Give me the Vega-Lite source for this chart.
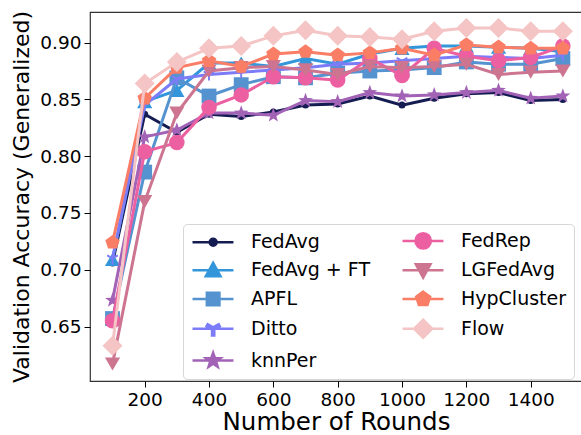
{
  "$schema": "https://vega.github.io/schema/vega-lite/v6.json",
  "width": 492,
  "height": 369,
  "autosize": {"type": "none"},
  "padding": {"left": 90, "top": 12, "right": -1, "bottom": 54},
  "background": "white",
  "config": {
    "font": "DejaVu Sans",
    "view": {"stroke": "#333333", "strokeWidth": 1.2},
    "axis": {"grid": false, "domain": false, "tickColor": "#000", "labelColor": "#000", "titleColor": "#000", "titleFontWeight": "normal", "labelFont": "DejaVu Sans", "titleFont": "DejaVu Sans", "tickSize": 6, "labelPadding": 3}
  },
  "data": {"values": [
    {"series": "FedAvg", "round": 100, "acc": 0.706}, {"series": "FedAvg", "round": 200, "acc": 0.837}, {"series": "FedAvg", "round": 300, "acc": 0.821}, {"series": "FedAvg", "round": 400, "acc": 0.837}, {"series": "FedAvg", "round": 500, "acc": 0.835}, {"series": "FedAvg", "round": 600, "acc": 0.839}, {"series": "FedAvg", "round": 700, "acc": 0.845}, {"series": "FedAvg", "round": 800, "acc": 0.846}, {"series": "FedAvg", "round": 900, "acc": 0.853}, {"series": "FedAvg", "round": 1000, "acc": 0.845}, {"series": "FedAvg", "round": 1100, "acc": 0.851}, {"series": "FedAvg", "round": 1200, "acc": 0.855}, {"series": "FedAvg", "round": 1300, "acc": 0.856}, {"series": "FedAvg", "round": 1400, "acc": 0.849}, {"series": "FedAvg", "round": 1500, "acc": 0.850},
    {"series": "FedAvg + FT", "round": 100, "acc": 0.709}, {"series": "FedAvg + FT", "round": 200, "acc": 0.848}, {"series": "FedAvg + FT", "round": 300, "acc": 0.858}, {"series": "FedAvg + FT", "round": 400, "acc": 0.882}, {"series": "FedAvg + FT", "round": 500, "acc": 0.882}, {"series": "FedAvg + FT", "round": 600, "acc": 0.879}, {"series": "FedAvg + FT", "round": 700, "acc": 0.886}, {"series": "FedAvg + FT", "round": 800, "acc": 0.881}, {"series": "FedAvg + FT", "round": 900, "acc": 0.890}, {"series": "FedAvg + FT", "round": 1000, "acc": 0.895}, {"series": "FedAvg + FT", "round": 1100, "acc": 0.897}, {"series": "FedAvg + FT", "round": 1200, "acc": 0.897}, {"series": "FedAvg + FT", "round": 1300, "acc": 0.896}, {"series": "FedAvg + FT", "round": 1400, "acc": 0.895}, {"series": "FedAvg + FT", "round": 1500, "acc": 0.892},
    {"series": "APFL", "round": 100, "acc": 0.657}, {"series": "APFL", "round": 200, "acc": 0.786}, {"series": "APFL", "round": 300, "acc": 0.869}, {"series": "APFL", "round": 400, "acc": 0.853}, {"series": "APFL", "round": 500, "acc": 0.863}, {"series": "APFL", "round": 600, "acc": 0.870}, {"series": "APFL", "round": 700, "acc": 0.869}, {"series": "APFL", "round": 800, "acc": 0.873}, {"series": "APFL", "round": 900, "acc": 0.875}, {"series": "APFL", "round": 1000, "acc": 0.876}, {"series": "APFL", "round": 1100, "acc": 0.878}, {"series": "APFL", "round": 1200, "acc": 0.883}, {"series": "APFL", "round": 1300, "acc": 0.881}, {"series": "APFL", "round": 1400, "acc": 0.881}, {"series": "APFL", "round": 1500, "acc": 0.886},
    {"series": "Ditto", "round": 100, "acc": 0.710}, {"series": "Ditto", "round": 200, "acc": 0.845}, {"series": "Ditto", "round": 300, "acc": 0.868}, {"series": "Ditto", "round": 400, "acc": 0.872}, {"series": "Ditto", "round": 500, "acc": 0.874}, {"series": "Ditto", "round": 600, "acc": 0.876}, {"series": "Ditto", "round": 700, "acc": 0.878}, {"series": "Ditto", "round": 800, "acc": 0.881}, {"series": "Ditto", "round": 900, "acc": 0.882}, {"series": "Ditto", "round": 1000, "acc": 0.884}, {"series": "Ditto", "round": 1100, "acc": 0.886}, {"series": "Ditto", "round": 1200, "acc": 0.888}, {"series": "Ditto", "round": 1300, "acc": 0.887}, {"series": "Ditto", "round": 1400, "acc": 0.886}, {"series": "Ditto", "round": 1500, "acc": 0.889},
    {"series": "knnPer", "round": 100, "acc": 0.673}, {"series": "knnPer", "round": 200, "acc": 0.817}, {"series": "knnPer", "round": 300, "acc": 0.823}, {"series": "knnPer", "round": 400, "acc": 0.838}, {"series": "knnPer", "round": 500, "acc": 0.838}, {"series": "knnPer", "round": 600, "acc": 0.836}, {"series": "knnPer", "round": 700, "acc": 0.849}, {"series": "knnPer", "round": 800, "acc": 0.848}, {"series": "knnPer", "round": 900, "acc": 0.856}, {"series": "knnPer", "round": 1000, "acc": 0.853}, {"series": "knnPer", "round": 1100, "acc": 0.854}, {"series": "knnPer", "round": 1200, "acc": 0.856}, {"series": "knnPer", "round": 1300, "acc": 0.858}, {"series": "knnPer", "round": 1400, "acc": 0.851}, {"series": "knnPer", "round": 1500, "acc": 0.853},
    {"series": "FedRep", "round": 100, "acc": 0.655}, {"series": "FedRep", "round": 200, "acc": 0.804}, {"series": "FedRep", "round": 300, "acc": 0.812}, {"series": "FedRep", "round": 400, "acc": 0.843}, {"series": "FedRep", "round": 500, "acc": 0.854}, {"series": "FedRep", "round": 600, "acc": 0.870}, {"series": "FedRep", "round": 700, "acc": 0.869}, {"series": "FedRep", "round": 800, "acc": 0.867}, {"series": "FedRep", "round": 900, "acc": 0.886}, {"series": "FedRep", "round": 1000, "acc": 0.871}, {"series": "FedRep", "round": 1100, "acc": 0.895}, {"series": "FedRep", "round": 1200, "acc": 0.888}, {"series": "FedRep", "round": 1300, "acc": 0.884}, {"series": "FedRep", "round": 1400, "acc": 0.887}, {"series": "FedRep", "round": 1500, "acc": 0.897},
    {"series": "LGFedAvg", "round": 100, "acc": 0.617}, {"series": "LGFedAvg", "round": 200, "acc": 0.760}, {"series": "LGFedAvg", "round": 300, "acc": 0.838}, {"series": "LGFedAvg", "round": 400, "acc": 0.875}, {"series": "LGFedAvg", "round": 500, "acc": 0.878}, {"series": "LGFedAvg", "round": 600, "acc": 0.879}, {"series": "LGFedAvg", "round": 700, "acc": 0.876}, {"series": "LGFedAvg", "round": 800, "acc": 0.872}, {"series": "LGFedAvg", "round": 900, "acc": 0.879}, {"series": "LGFedAvg", "round": 1000, "acc": 0.878}, {"series": "LGFedAvg", "round": 1100, "acc": 0.879}, {"series": "LGFedAvg", "round": 1200, "acc": 0.881}, {"series": "LGFedAvg", "round": 1300, "acc": 0.872}, {"series": "LGFedAvg", "round": 1400, "acc": 0.874}, {"series": "LGFedAvg", "round": 1500, "acc": 0.875},
    {"series": "HypCluster", "round": 100, "acc": 0.724}, {"series": "HypCluster", "round": 200, "acc": 0.851}, {"series": "HypCluster", "round": 300, "acc": 0.878}, {"series": "HypCluster", "round": 400, "acc": 0.884}, {"series": "HypCluster", "round": 500, "acc": 0.879}, {"series": "HypCluster", "round": 600, "acc": 0.890}, {"series": "HypCluster", "round": 700, "acc": 0.892}, {"series": "HypCluster", "round": 800, "acc": 0.889}, {"series": "HypCluster", "round": 900, "acc": 0.891}, {"series": "HypCluster", "round": 1000, "acc": 0.895}, {"series": "HypCluster", "round": 1100, "acc": 0.889}, {"series": "HypCluster", "round": 1200, "acc": 0.898}, {"series": "HypCluster", "round": 1300, "acc": 0.896}, {"series": "HypCluster", "round": 1400, "acc": 0.895}, {"series": "HypCluster", "round": 1500, "acc": 0.895},
    {"series": "Flow", "round": 100, "acc": 0.633}, {"series": "Flow", "round": 200, "acc": 0.864}, {"series": "Flow", "round": 300, "acc": 0.883}, {"series": "Flow", "round": 400, "acc": 0.895}, {"series": "Flow", "round": 500, "acc": 0.897}, {"series": "Flow", "round": 600, "acc": 0.906}, {"series": "Flow", "round": 700, "acc": 0.911}, {"series": "Flow", "round": 800, "acc": 0.906}, {"series": "Flow", "round": 900, "acc": 0.905}, {"series": "Flow", "round": 1000, "acc": 0.903}, {"series": "Flow", "round": 1100, "acc": 0.910}, {"series": "Flow", "round": 1200, "acc": 0.913}, {"series": "Flow", "round": 1300, "acc": 0.913}, {"series": "Flow", "round": 1400, "acc": 0.910}, {"series": "Flow", "round": 1500, "acc": 0.910}
  ]},
  "encoding": {
    "x": {"field": "round", "type": "quantitative", "scale": {"domain": [30, 1559.5], "nice": false, "zero": false},
      "axis": {"title": "Number of Rounds", "values": [200, 400, 600, 800, 1000, 1200, 1400], "format": "d", "labelFontSize": 18.5, "titleFontSize": 24.5, "titlePadding": 2}},
    "y": {"field": "acc", "type": "quantitative", "scale": {"domain": [0.602, 0.927], "nice": false, "zero": false},
      "axis": {"title": "Validation Accuracy (Generalized)", "values": [0.65, 0.7, 0.75, 0.8, 0.85, 0.9], "format": ".2f", "labelFontSize": 18.5, "titleFontSize": 22, "titlePadding": 6}}
  },
  "layer": [
    {"transform": [{"filter": "datum.series === 'FedAvg'"}], "layer": [
      {"mark": {"type": "line", "color": "#141c52", "strokeWidth": 3}},
      {"mark": {"type": "point", "filled": true, "shape": "circle", "size": 49, "color": "#141c52", "opacity": 1}}
    ]},
    {"transform": [{"filter": "datum.series === 'FedAvg + FT'"}], "layer": [
      {"mark": {"type": "line", "color": "#3396da", "strokeWidth": 3}},
      {"mark": {"type": "point", "filled": true, "shape": "triangle-up", "size": 230, "color": "#3396da", "opacity": 1}}
    ]},
    {"transform": [{"filter": "datum.series === 'APFL'"}], "layer": [
      {"mark": {"type": "line", "color": "#5493cf", "strokeWidth": 3}},
      {"mark": {"type": "point", "filled": true, "shape": "square", "size": 220, "color": "#5493cf", "opacity": 1}}
    ]},
    {"transform": [{"filter": "datum.series === 'Ditto'"}], "layer": [
      {"mark": {"type": "line", "color": "#7c7cf8", "strokeWidth": 3}},
      {"mark": {"type": "point", "filled": true, "shape": "M0.16,1L-0.16,1L-0.16,0.092L-0.946,-0.361L-0.786,-0.639L0,-0.185L0.786,-0.639L0.946,-0.361L0.16,0.092Z", "size": 150, "color": "#7c7cf8", "opacity": 1}}
    ]},
    {"transform": [{"filter": "datum.series === 'knnPer'"}], "layer": [
      {"mark": {"type": "line", "color": "#a263b6", "strokeWidth": 3}},
      {"mark": {"type": "point", "filled": true, "shape": "M0,-1.1L0.2645,-0.364L1.046,-0.34L0.428,0.139L0.647,0.89L0,0.45L-0.647,0.89L-0.428,0.139L-1.046,-0.34L-0.2645,-0.364Z", "size": 200, "color": "#a263b6", "opacity": 1}}
    ]},
    {"transform": [{"filter": "datum.series === 'FedRep'"}], "layer": [
      {"mark": {"type": "line", "color": "#ec5fa1", "strokeWidth": 3}},
      {"mark": {"type": "point", "filled": true, "shape": "circle", "size": 240, "color": "#ec5fa1", "opacity": 1}}
    ]},
    {"transform": [{"filter": "datum.series === 'LGFedAvg'"}], "layer": [
      {"mark": {"type": "line", "color": "#cd7490", "strokeWidth": 3}},
      {"mark": {"type": "point", "filled": true, "shape": "triangle-down", "size": 230, "color": "#cd7490", "opacity": 1}}
    ]},
    {"transform": [{"filter": "datum.series === 'HypCluster'"}], "layer": [
      {"mark": {"type": "line", "color": "#fa7d66", "strokeWidth": 3}},
      {"mark": {"type": "point", "filled": true, "shape": "M0,-1L0.951,-0.309L0.588,0.809L-0.588,0.809L-0.951,-0.309Z", "size": 230, "color": "#fa7d66", "opacity": 1}}
    ]},
    {"transform": [{"filter": "datum.series === 'Flow'"}], "layer": [
      {"mark": {"type": "line", "color": "#f5c4c4", "strokeWidth": 3}},
      {"mark": {"type": "point", "filled": true, "shape": "diamond", "size": 400, "color": "#f5c4c4", "opacity": 1}}
    ]},
    {"transform": [{"filter": "false"}],
      "mark": {"type": "point", "filled": true, "opacity": 1, "strokeWidth": 2.5},
      "encoding": {
        "color": {"field": "series", "type": "nominal",
          "scale": {"domain": ["FedAvg", "FedAvg + FT", "APFL", "Ditto", "knnPer", "FedRep", "LGFedAvg", "HypCluster", "Flow"],
                    "range": ["#141c52", "#3396da", "#5493cf", "#7c7cf8", "#a263b6", "#ec5fa1", "#cd7490", "#fa7d66", "#f5c4c4"]},
          "legend": {"title": null, "orient": "none", "legendX": 93, "legendY": 212, "columns": 2, "labelFontSize": 19, "labelFont": "DejaVu Sans", "labelColor": "#000", "symbolSize": 196, "symbolStrokeWidth": 2.5, "labelOffset": 42, "rowPadding": 3.75, "columnPadding": 26, "padding": 7, "strokeColor": "#d6d6d6", "fillColor": "rgba(255,255,255,0.8)", "cornerRadius": 4}},
        "stroke": {"field": "series", "type": "nominal",
          "scale": {"domain": ["FedAvg", "FedAvg + FT", "APFL", "Ditto", "knnPer", "FedRep", "LGFedAvg", "HypCluster", "Flow"],
                    "range": ["#141c52", "#3396da", "#5493cf", "#7c7cf8", "#a263b6", "#ec5fa1", "#cd7490", "#fa7d66", "#f5c4c4"]},
          "legend": {"title": null}},
        "shape": {"field": "series", "type": "nominal",
          "scale": {"domain": ["FedAvg", "FedAvg + FT", "APFL", "Ditto", "knnPer", "FedRep", "LGFedAvg", "HypCluster", "Flow"],
                    "range": [
                      "M-1,0L4.85,0M2.45,0C2.45,0.28 2.23,0.5 1.95,0.5C1.67,0.5 1.45,0.28 1.45,0C1.45,-0.28 1.67,-0.5 1.95,-0.5C2.23,-0.5 2.45,-0.28 2.45,0Z",
                      "M-1,0L4.85,0M1.95,-1.05L3,0.85L0.9,0.85Z",
                      "M-1,0L4.85,0M1.05,-0.9L2.85,-0.9L2.85,0.9L1.05,0.9Z",
                      "M-1,0L4.85,0M2.11,0.95L1.79,0.95L1.79,0.092L1.004,-0.361L1.164,-0.639L1.95,-0.185L2.736,-0.639L2.896,-0.361L2.11,0.092Z",
                      "M-1,0L4.85,0M1.95,-1.1L2.2145,-0.364L2.996,-0.34L2.378,0.139L2.597,0.89L1.95,0.45L1.303,0.89L1.522,0.139L0.904,-0.34L1.6855,-0.364Z",
                      "M-1,0L4.85,0M3.05,0C3.05,0.61 2.56,1.1 1.95,1.1C1.34,1.1 0.85,0.61 0.85,0C0.85,-0.61 1.34,-1.1 1.95,-1.1C2.56,-1.1 3.05,-0.61 3.05,0Z",
                      "M-1,0L4.85,0M0.9,-0.85L3,-0.85L1.95,1.05Z",
                      "M-1,0L4.85,0M1.95,-1.05L2.948,-0.324L2.567,0.849L1.333,0.849L0.952,-0.324Z",
                      "M-1,0L4.85,0M1.95,-1.3L3.25,0L1.95,1.3L0.65,0Z"
                    ]},
          "legend": {"title": null}}
      }
    }
  ]
}
